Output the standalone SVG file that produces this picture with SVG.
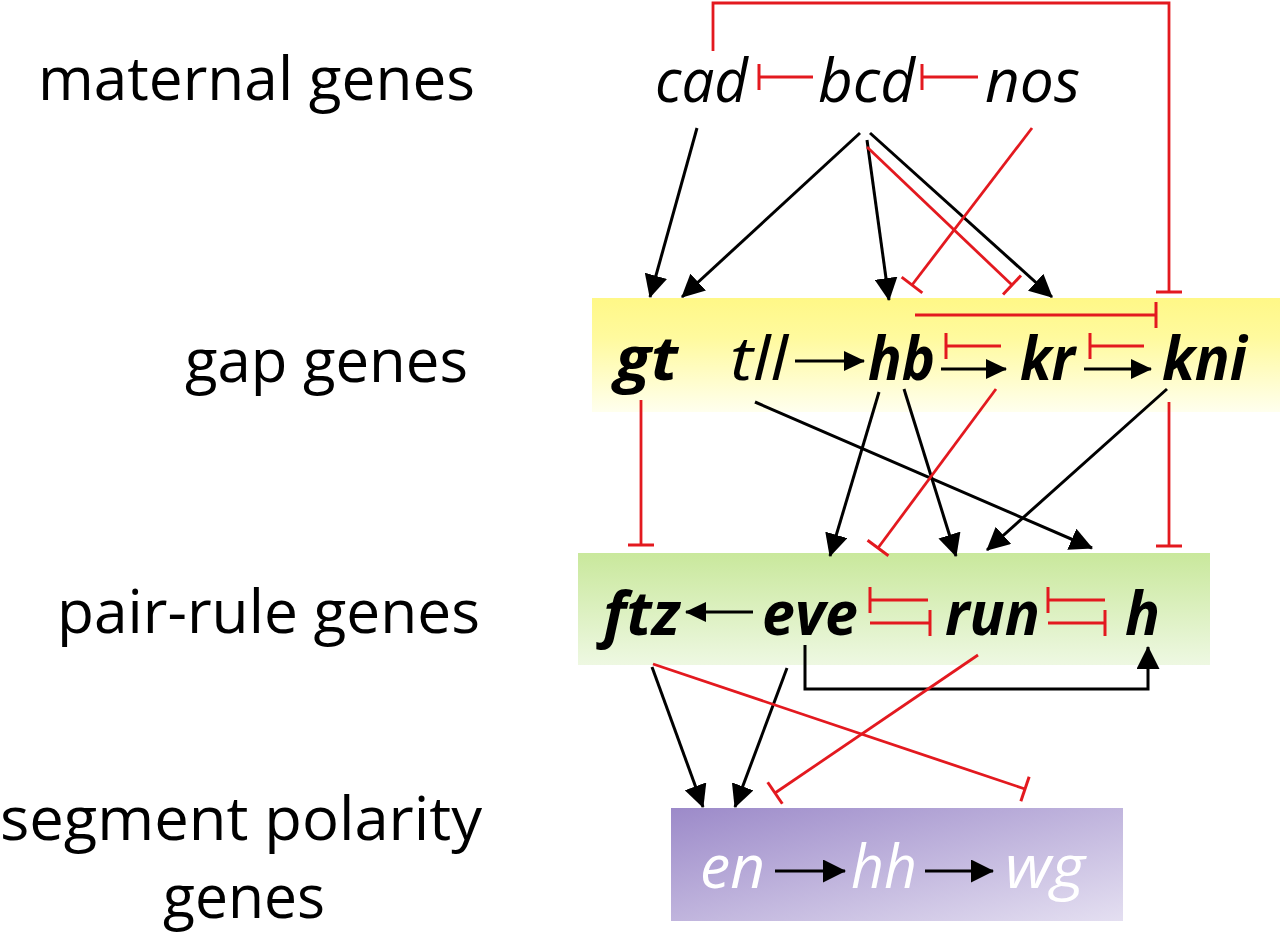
<svg xmlns="http://www.w3.org/2000/svg" width="1280" height="935" viewBox="0 0 1280 935">
<defs>
<linearGradient id="gYel" x1="0" y1="0" x2="0" y2="1"><stop offset="0" stop-color="#FFF887"/><stop offset="0.35" stop-color="#FFFA9E"/><stop offset="1" stop-color="#FFFFEE"/></linearGradient>
<linearGradient id="gGrn" x1="0" y1="0" x2="0" y2="1"><stop offset="0" stop-color="#C9E89C"/><stop offset="1" stop-color="#EEF8E2"/></linearGradient>
<linearGradient id="gPur" x1="0" y1="0" x2="1" y2="1"><stop offset="0" stop-color="#9C8AC9"/><stop offset="1" stop-color="#E4DFF1"/></linearGradient>
<marker id="ah" viewBox="0 0 23 23" markerWidth="23" markerHeight="23" refX="22" refY="11.5" orient="auto" markerUnits="userSpaceOnUse"><path d="M0,0 L23,11.5 L0,23 z" fill="#000"/></marker>
<marker id="ahs" viewBox="0 0 21 20" markerWidth="21" markerHeight="20" refX="20" refY="10" orient="auto" markerUnits="userSpaceOnUse"><path d="M0,0 L21,10 L0,20 z" fill="#000"/></marker>
<marker id="tb" viewBox="-2 -14 4 28" markerWidth="4" markerHeight="28" refX="0" refY="0" orient="auto" markerUnits="userSpaceOnUse"><line x1="0" y1="-13" x2="0" y2="13" stroke="#E3191F" stroke-width="3"/></marker>
</defs>
<style>
text{font-family:"Open Sans","Noto Sans",sans-serif;font-size:60px;fill:#000}
.lab{font-weight:400}
.it{font-style:italic}
.bi{font-style:italic;font-weight:700}
.wh{fill:#fff;font-style:italic}
.k{stroke:#000;stroke-width:3;fill:none}
.r{stroke:#E3191F;stroke-width:2.8;fill:none}
.a{marker-end:url(#ah)}
.as{marker-end:url(#ahs)}
.t{marker-end:url(#tb)}
</style>
<rect width="1280" height="935" fill="#fff"/>
<g id="labels">
<text class="lab" x="38" y="100" textLength="437" lengthAdjust="spacingAndGlyphs">maternal genes</text>
<text class="lab" x="185" y="382" textLength="283" lengthAdjust="spacingAndGlyphs">gap genes</text>
<text class="lab" x="57" y="633" textLength="423" lengthAdjust="spacingAndGlyphs">pair-rule genes</text>
<text class="lab" x="0" y="840" textLength="482" lengthAdjust="spacingAndGlyphs">segment polarity</text>
<text class="lab" x="163" y="918" textLength="162" lengthAdjust="spacingAndGlyphs">genes</text>
</g>
<g id="gap-box"><rect x="592" y="298" width="688" height="114" fill="url(#gYel)"/></g>
<g id="pair-rule-box"><rect x="578" y="553" width="632" height="112" fill="url(#gGrn)"/></g>
<g id="segment-polarity-box"><rect x="671" y="808" width="452" height="113" fill="url(#gPur)"/></g>
<g id="connectors">
<path class="k a" d="M697,128 L650,297"/>
<path class="k a" d="M860,133 L682,297"/>
<path class="k a" d="M867,140 L889,300"/>
<path class="k a" d="M870,133 L1052,297"/>
<path class="k as" d="M795,361 L864,361"/>
<path class="k as" d="M941,369 L1006,369"/>
<path class="k as" d="M1084,369 L1151,369"/>
<path class="k a" d="M755,402 L1092,548"/>
<path class="k a" d="M879,392 L830,556"/>
<path class="k a" d="M904,389 L956,556"/>
<path class="k a" d="M1167,389 L987,550"/>
<path class="k as" d="M753,612 L686,612"/>
<path class="k a" d="M805,645 V689 H1148 V647"/>
<path class="k a" d="M652,667 L703,807"/>
<path class="k a" d="M787,668 L735,807"/>
<path class="k a" d="M775,871 L845,871"/>
<path class="k a" d="M925,871 L993,871"/>
<path class="r t" d="M813,77 L759,77"/>
<path class="r t" d="M978,77 L922,77"/>
<path class="r t" d="M713,51 V3 H1169 V292"/>
<path class="r t" d="M867,147 L1012,285"/>
<path class="r t" d="M1032,128 L912,285"/>
<path class="r t" d="M915,315 H1156"/>
<path class="r t" d="M1001,346 H946"/>
<path class="r t" d="M1144,346 H1090"/>
<path class="r t" d="M641,400 V545"/>
<path class="r t" d="M996,389 L878,548"/>
<path class="r t" d="M1169,402 V546"/>
<path class="r t" d="M928,600 H870"/>
<path class="r t" d="M870,623 H930"/>
<path class="r t" d="M1105,600 H1048"/>
<path class="r t" d="M1048,623 H1105"/>
<path class="r t" d="M653,664 L1025,789"/>
<path class="r t" d="M978,655 L775,793"/>
</g>
<g id="cad"><text class="it" x="655" y="102" textLength="93" lengthAdjust="spacingAndGlyphs">cad</text></g>
<g id="bcd"><text class="it" x="818" y="102" textLength="97" lengthAdjust="spacingAndGlyphs">bcd</text></g>
<g id="nos"><text class="it" x="985" y="102" textLength="95" lengthAdjust="spacingAndGlyphs">nos</text></g>
<g id="gt"><text class="bi" x="615" y="380" textLength="63" lengthAdjust="spacingAndGlyphs">gt</text></g>
<g id="tll"><text class="it" x="730" y="380" textLength="58" lengthAdjust="spacingAndGlyphs">tll</text></g>
<g id="hb"><text class="bi" x="868" y="380" textLength="67" lengthAdjust="spacingAndGlyphs">hb</text></g>
<g id="kr"><text class="bi" x="1020" y="380" textLength="55" lengthAdjust="spacingAndGlyphs">kr</text></g>
<g id="kni"><text class="bi" x="1162" y="380" textLength="85" lengthAdjust="spacingAndGlyphs">kni</text></g>
<g id="ftz"><text class="bi" x="603" y="635" textLength="77" lengthAdjust="spacingAndGlyphs">ftz</text></g>
<g id="eve"><text class="bi" x="762" y="635" textLength="96" lengthAdjust="spacingAndGlyphs">eve</text></g>
<g id="run"><text class="bi" x="945" y="635" textLength="95" lengthAdjust="spacingAndGlyphs">run</text></g>
<g id="h"><text class="bi" x="1125" y="635" textLength="35" lengthAdjust="spacingAndGlyphs">h</text></g>
<g id="en"><text class="wh" x="700" y="888" textLength="65" lengthAdjust="spacingAndGlyphs">en</text></g>
<g id="hh"><text class="wh" x="851" y="888" textLength="66" lengthAdjust="spacingAndGlyphs">hh</text></g>
<g id="wg"><text class="wh" x="1005" y="888" textLength="80" lengthAdjust="spacingAndGlyphs">wg</text></g>
</svg>
